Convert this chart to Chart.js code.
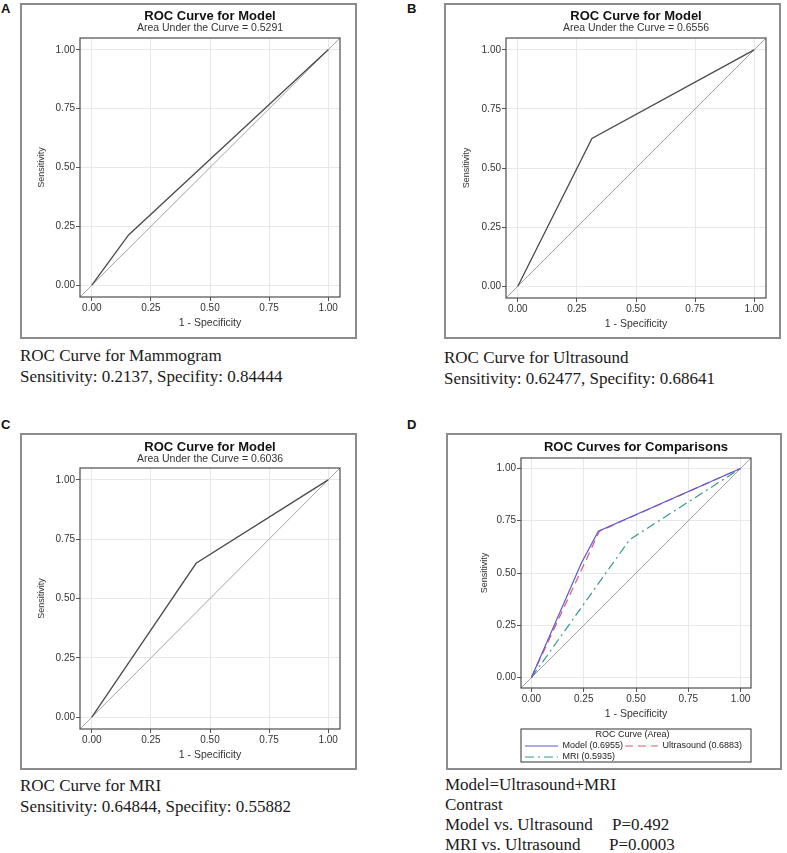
<!DOCTYPE html>
<html>
<head>
<meta charset="utf-8">
<script src="https://cdn.jsdelivr.net/npm/chart.js@4.4.1/dist/chart.umd.min.js"></script>
<style>
  body { margin: 0; background: #fff; }
  #page { position: relative; width: 787px; height: 853px; overflow: hidden; }
  .box { position: absolute; border: 2px solid #8c8c8c; box-sizing: border-box; }
  .box canvas { position: absolute; left: 0; top: 0; }
  .tag { position: absolute; font: bold 13px "Liberation Sans", Arial, sans-serif; color: #111; line-height: 15px; }
  .cap { position: absolute; font: 17px "Liberation Serif", "Times New Roman", serif; color: #1a1a1a; white-space: nowrap; }
  .cap div { position: relative; }
  .cap span { position: absolute; top: 0; }
</style>
</head>
<body>
<div id="page">
  <div class="tag" style="left:1px;top:1px">A</div>
  <div class="tag" style="left:407px;top:1px">B</div>
  <div class="tag" style="left:1px;top:417px">C</div>
  <div class="tag" style="left:407px;top:417px">D</div>

  <div class="box" style="left:20px;top:3px;width:337px;height:336px"><canvas id="rocA" width="333" height="332"></canvas></div>
  <div class="box" style="left:444px;top:3px;width:337px;height:336px"><canvas id="rocB" width="333" height="332"></canvas></div>
  <div class="box" style="left:20px;top:433px;width:337px;height:337px"><canvas id="rocC" width="333" height="333"></canvas></div>
  <div class="box" style="left:446px;top:433px;width:336px;height:337px"><canvas id="rocD" width="332" height="333"></canvas></div>

  <div class="cap" style="left:20px;top:345px;line-height:21px">
    <div>ROC Curve for Mammogram</div>
    <div>Sensitivity: 0.2137, Specifity: 0.84444</div>
  </div>
  <div class="cap" style="left:444px;top:347px;line-height:21px">
    <div>ROC Curve for Ultrasound</div>
    <div>Sensitivity: 0.62477, Specifity: 0.68641</div>
  </div>
  <div class="cap" style="left:20px;top:775px;line-height:21px">
    <div>ROC Curve for MRI</div>
    <div>Sensitivity: 0.64844, Specifity: 0.55882</div>
  </div>
  <div class="cap" style="left:445px;top:775px;line-height:20px">
    <div>Model=Ultrasound+MRI</div>
    <div>Contrast</div>
    <div>Model vs. Ultrasound<span style="left:167px">P=0.492</span></div>
    <div>MRI vs. Ultrasound<span style="left:164px">P=0.0003</span></div>
  </div>
</div>

<script>
// tick values shared by both axes of every panel
const tickVals = [0, 0.25, 0.5, 0.75, 1];
// axis range and the chance diagonal
const axisEnds = [-0.05, 1.05];

// A: mammogram
const mammoFpr = [0, 0.1556, 1];
const mammoTpr = [0, 0.2137, 1];
// B: ultrasound
const usFpr = [0, 0.3136, 1];
const usTpr = [0, 0.6248, 1];
// C: MRI
const mriFpr = [0, 0.4412, 1];
const mriTpr = [0, 0.6484, 1];
// D: comparison curves
const cmpNames = ['Model (0.6955)', 'Ultrasound (0.6883)', 'MRI (0.5935)'];
const cmpModelFpr = [0, 0.24, 0.32, 1];
const cmpModelTpr = [0, 0.55, 0.70, 1];
const cmpUsFpr = [0, 0.325, 1];
const cmpUsTpr = [0, 0.70, 1];
const cmpMriFpr = [0, 0.47, 1];
const cmpMriTpr = [0, 0.66, 1];

const sans = '"Liberation Sans", Arial, sans-serif';

function pts(xs, ys) {
  return xs.map((x, i) => ({x: x, y: ys[i]}));
}

function diagonal() {
  return {
    label: 'diag', data: pts(axisEnds, axisEnds),
    borderColor: '#a3a3a3', borderWidth: 1, order: 10
  };
}

// plot frame + legend frame, and pin the legend to the plot width
const framePlugin = {
  id: 'frame',
  afterLayout(chart) {
    const lg = chart.legend;
    if (lg && lg.options.display) {
      lg.left = chart.chartArea.left + 2;
      lg.right = chart.chartArea.right;
    }
  },
  afterDraw(chart) {
    const ctx = chart.ctx, a = chart.chartArea;
    ctx.save();
    ctx.strokeStyle = '#4d4d4d';
    ctx.lineWidth = 1.2;
    ctx.strokeRect(a.left, a.top, a.right - a.left, a.bottom - a.top);
    const lg = chart.legend;
    if (lg && lg.options.display) {
      ctx.lineWidth = 1;
      ctx.strokeStyle = '#333';
      ctx.strokeRect(a.left, lg.top, a.right - a.left, 33);
    }
    ctx.restore();
  }
};

function axis(text, size, titlePad, horizontal) {
  return {
    type: 'linear',
    min: axisEnds[0],
    max: axisEnds[1],
    afterBuildTicks: s => { s.ticks = tickVals.map(v => ({value: v})); },
    afterFit: s => { if (horizontal) s.height = size; else s.width = size; },
    ticks: {
      callback: v => v.toFixed(2),
      font: {family: sans, size: 10},
      color: '#333',
      padding: 1,
      maxRotation: 0,
      autoSkip: false
    },
    grid: {color: '#e8e8e8', tickColor: '#555', tickLength: 4},
    border: {display: false},
    title: {
      display: true, text: text, color: '#333',
      font: {family: sans, size: horizontal ? 10.5 : 9},
      padding: horizontal ? {top: 0, bottom: titlePad} : {top: titlePad, bottom: 0}
    }
  };
}

function rocChart(id, o) {
  const datasets = [diagonal()].concat(o.curves);
  return new Chart(document.getElementById(id), {
    type: 'scatter',
    data: {datasets: datasets},
    options: {
      responsive: false,
      animation: false,
      showLine: true,
      elements: {point: {radius: 0, hoverRadius: 0}},
      layout: {padding: {left: 0, right: o.padRight, top: 0, bottom: o.padBottom || 0}, autoPadding: false},
      scales: {
        x: axis('1 - Specificity', o.xH, o.xPad, true),
        y: axis('Sensitivity', o.yW, o.yPad, false)
      },
      plugins: {
        tooltip: {enabled: false},
        title: {
          display: true, text: o.title, fullSize: false, color: '#111',
          font: {family: sans, size: 13, weight: 'bold', lineHeight: 1},
          padding: {top: o.titleTop, bottom: o.sub ? 0 : o.titleBottom}
        },
        subtitle: {
          display: !!o.sub, text: o.sub || '', fullSize: false, color: '#333',
          font: {family: sans, size: 10.5, lineHeight: 1},
          padding: {top: 0, bottom: o.subBottom || 0}
        },
        legend: o.legend || {display: false}
      }
    },
    plugins: [framePlugin]
  });
}

function single(fpr, tpr) {
  return [{label: 'ROC', data: pts(fpr, tpr), borderColor: '#4a4a4a', borderWidth: 1.3, order: 1}];
}

// legend entries drawn as short line samples carrying each curve's dash pattern
function lineLabels(chart) {
  const items = Chart.defaults.plugins.legend.labels.generateLabels(chart);
  return items.filter(it => chart.data.datasets[it.datasetIndex].label !== 'diag').map(it => {
    const ds = chart.data.datasets[it.datasetIndex];
    it.pointStyle = 'line';
    it.strokeStyle = ds.borderColor;
    it.fillStyle = ds.borderColor;
    it.lineWidth = ds.borderWidth;
    it.lineDash = ds.borderDash || [];
    return it;
  });
}

rocChart('rocA', {
  title: 'ROC Curve for Model', sub: 'Area Under the Curve = 0.5291',
  titleTop: 4.5, subBottom: 5, padRight: 15, xH: 40, xPad: 7.7, yW: 58, yPad: 14.3,
  curves: single(mammoFpr, mammoTpr)
});

rocChart('rocB', {
  title: 'ROC Curve for Model', sub: 'Area Under the Curve = 0.6556',
  titleTop: 4.5, subBottom: 5, padRight: 13, xH: 39, xPad: 6.4, yW: 60, yPad: 15.3,
  curves: single(usFpr, usTpr)
});

rocChart('rocC', {
  title: 'ROC Curve for Model', sub: 'Area Under the Curve = 0.6036',
  titleTop: 6, subBottom: 3.5, padRight: 15, xH: 39, xPad: 6.7, yW: 58, yPad: 14.3,
  curves: single(mriFpr, mriTpr)
});

rocChart('rocD', {
  title: 'ROC Curves for Comparisons',
  titleTop: 6.2, titleBottom: 3.8, padRight: 29, padBottom: 5, xH: 41, xPad: 8.7, yW: 73, yPad: 31.6,
  curves: [
    {label: cmpNames[0], data: pts(cmpModelFpr, cmpModelTpr), borderColor: '#5858d4', borderWidth: 1.2, order: 1},
    {label: cmpNames[1], data: pts(cmpUsFpr, cmpUsTpr), borderColor: '#e05a72', borderWidth: 1.2, borderDash: [8, 5], order: 2},
    {label: cmpNames[2], data: pts(cmpMriFpr, cmpMriTpr), borderColor: '#35998a', borderWidth: 1.2, borderDash: [9, 4, 2, 4], order: 3}
  ],
  legend: {
    display: true, position: 'bottom', align: 'start', fullSize: true, maxHeight: 34,
    labels: {
      usePointStyle: true, pointStyle: 'line', pointStyleWidth: 33, boxHeight: 9,
      font: {family: sans, size: 9}, color: '#222', padding: 2,
      generateLabels: lineLabels
    },
    title: {
      display: true, text: 'ROC Curve (Area)', position: 'center', color: '#222',
      font: {family: sans, size: 9, lineHeight: 1}, padding: {top: 1.5, bottom: 0}
    }
  }
});
</script>
</body>
</html>
